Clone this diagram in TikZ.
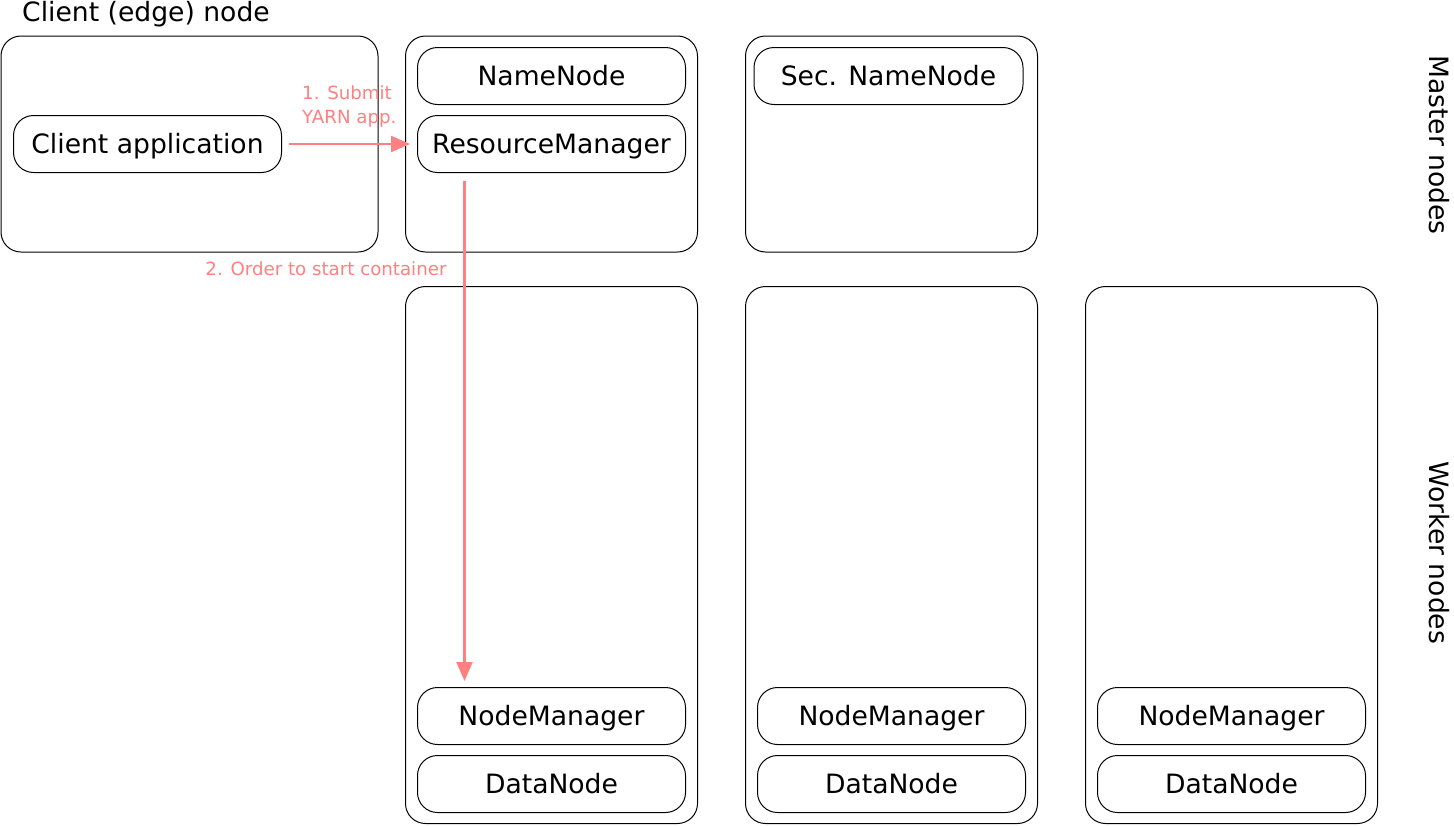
\documentclass[tikz,border=0pt]{standalone}
\usepackage{fontspec}
\setmainfont{DejaVu Sans}
\usetikzlibrary{arrows.meta}
\definecolor{lred}{RGB}{255,128,128}
\tikzset{
  hostbox/.style={draw=black, line width=1pt, rounded corners=20pt, inner sep=0pt, anchor=north west},
  svcbox/.style={draw=black, line width=1pt, rounded corners=20pt, inner sep=0pt, anchor=north west,
     minimum width=268pt, minimum height=57pt, font=\fontsize{26.6}{31}\selectfont, text height=19.4pt, text depth=0pt},
  biglabel/.style={font=\fontsize{26.6}{31}\selectfont, inner sep=0pt, text height=19.4pt, text depth=0pt},
  redlabel/.style={text=lred, font=\fontsize{18.2}{24}\selectfont, inner sep=0pt},
  redarrow/.style={draw=lred, line width=2.2pt, -{Triangle[length=19pt,width=16pt]}}
}
\begin{document}
\begin{tikzpicture}[x=1pt,y=-1pt]
\useasboundingbox (0,0) rectangle (1454,825);
% host boxes
\node[hostbox, minimum width=377pt, minimum height=216pt] (client) at (0.5,35.5) {};
\node[hostbox, minimum width=292pt, minimum height=216pt] (m1) at (405,35.5) {};
\node[hostbox, minimum width=292pt, minimum height=216pt] (m2) at (745,35.5) {};
\node[hostbox, minimum width=292pt, minimum height=537pt] (w1) at (405,286) {};
\node[hostbox, minimum width=292pt, minimum height=537pt] (w2) at (745,286) {};
\node[hostbox, minimum width=292pt, minimum height=537pt] (w3) at (1085,286) {};
% title
\node[font=\fontsize{26.6}{31}\selectfont, inner sep=0pt, anchor=base] (title) at (146,21) {Client (edge) node};
% services
\node[svcbox] (capp) at (13,115) {Client application};
\node[svcbox] (nn) at (417,47) {NameNode};
\node[svcbox] (rm) at (417,115) {ResourceManager};
\node[svcbox, minimum width=269pt] (snn) at (753.5,47) {Sec. NameNode};
\node[svcbox] (nm1) at (417,687) {NodeManager};
\node[svcbox] (dn1) at (417,755) {DataNode};
\node[svcbox] (nm2) at (757,687) {NodeManager};
\node[svcbox] (dn2) at (757,755) {DataNode};
\node[svcbox] (nm3) at (1097,687) {NodeManager};
\node[svcbox] (dn3) at (1097,755) {DataNode};
% side labels
\node[biglabel, rotate=-90] (mlab) at (1439.5,145) {Master nodes};
\node[biglabel, rotate=-90] (wlab) at (1439.5,553) {Worker nodes};
% arrows
\draw[redarrow] ([xshift=6.5pt]capp.east) -- ([xshift=-7pt]rm.west);
\node[redlabel, anchor=north west, align=left] (l1) at (302,85.5) {1. Submit\\YARN app.};
\draw[redarrow] ([xshift=-87pt,yshift=-7.5pt]rm.south) -- ([xshift=-87pt,yshift=6pt]nm1.north);
\node[redlabel, anchor=base] (l2) at (326,275) {2. Order to start container};
\end{tikzpicture}
\end{document}
